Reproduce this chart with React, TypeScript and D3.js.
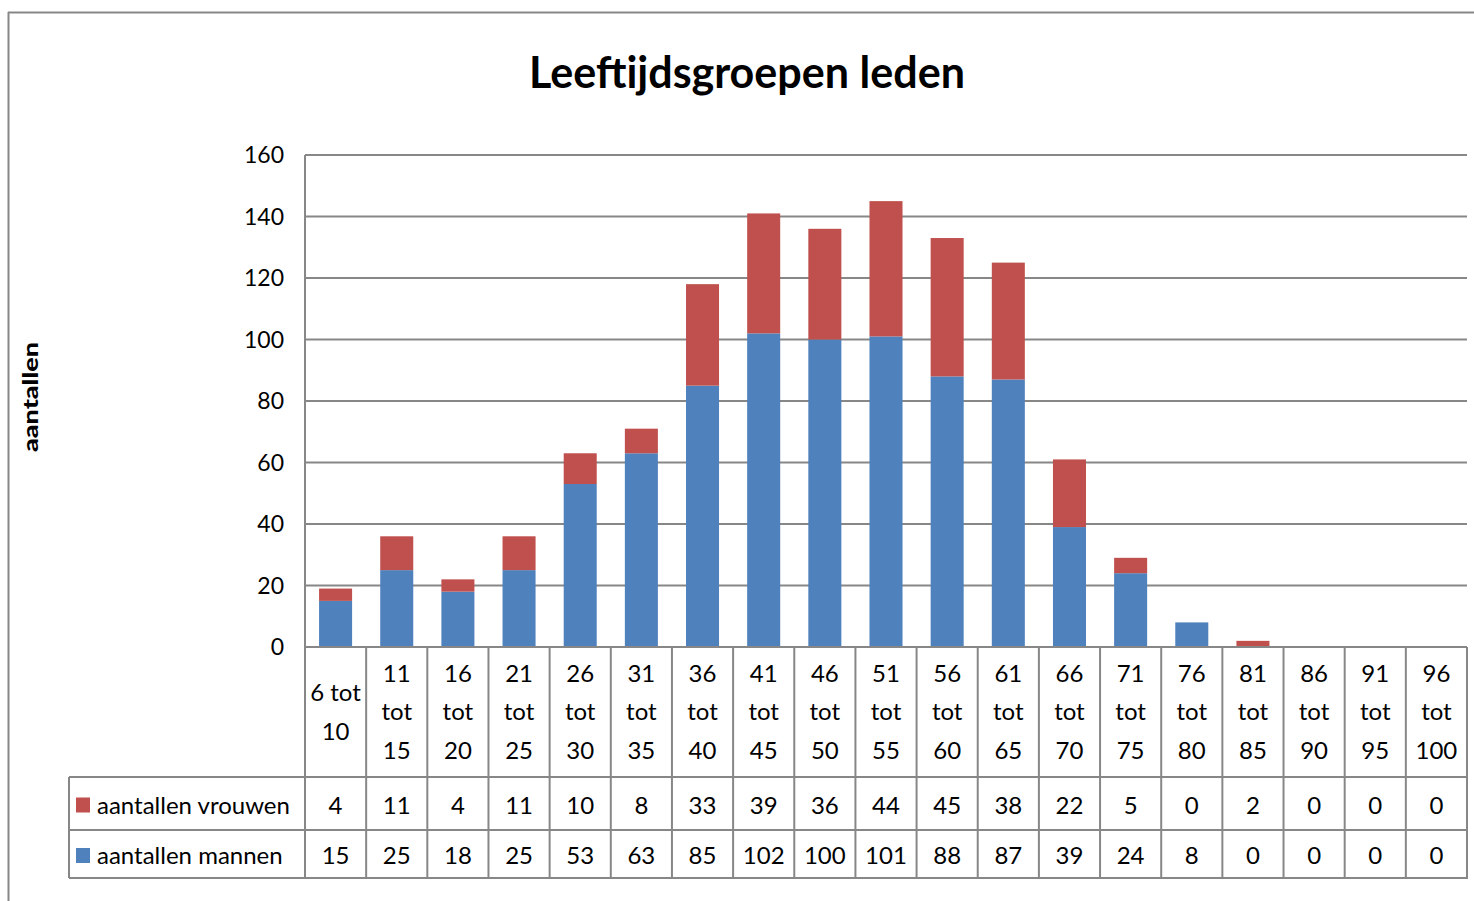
import React, { useMemo } from "react";
import * as d3 from "d3";

const categories = [
  "6 tot 10", "11 tot 15", "16 tot 20", "21 tot 25", "26 tot 30", "31 tot 35",
  "36 tot 40", "41 tot 45", "46 tot 50", "51 tot 55", "56 tot 60", "61 tot 65",
  "66 tot 70", "71 tot 75", "76 tot 80", "81 tot 85", "86 tot 90", "91 tot 95", "96 tot 100",
];
const mannen = [15, 25, 18, 25, 53, 63, 85, 102, 100, 101, 88, 87, 39, 24, 8, 0, 0, 0, 0];
const vrouwen = [4, 11, 4, 11, 10, 8, 33, 39, 36, 44, 45, 38, 22, 5, 0, 2, 0, 0, 0];
const yTicks = [0, 20, 40, 60, 80, 100, 120, 140, 160];
const seriesNames = ["aantallen vrouwen", "aantallen mannen"];
const title = "Leeftijdsgroepen leden";
const yLabel = "aantallen";

const FONT = "Lato, 'Open Sans', sans-serif";
const BLUE = "#4F81BD";
const RED = "#C0504D";
const GRID = "#878787";

function wrapLabel(label: string, maxW: number, font: string): string[] {
  const canvas = document.createElement("canvas");
  const ctx = canvas.getContext("2d");
  const words = label.split(" ");
  const lines: string[] = [];
  let cur = "";
  for (const w of words) {
    const test = cur ? cur + " " + w : w;
    const width = ctx ? (ctx.font = font, ctx.measureText(test).width) : test.length * 12;
    if (cur && width > maxW) {
      lines.push(cur);
      cur = w;
    } else {
      cur = test;
    }
  }
  if (cur) lines.push(cur);
  return lines;
}

export default function App() {
  const W = 1474, H = 901;
  const left = 305, right = 1467, top = 155, zeroY = 647;
  const catBottom = 777, row1Bottom = 830, row2Bottom = 878;
  const legendLeft = 69;

  const x = d3.scaleBand<string>().domain(categories).range([left, right]).paddingInner(0.46).paddingOuter(0.23);
  const xCell = d3.scaleBand<string>().domain(categories).range([left, right]).padding(0);
  const y = d3.scaleLinear().domain([0, 160]).range([zeroY, top]);

  const stackData = categories.map((c, i) => ({ cat: c, mannen: mannen[i], vrouwen: vrouwen[i] }));
  const stacked = d3.stack<any>().keys(["mannen", "vrouwen"])(stackData);
  const colors: Record<string, string> = { mannen: BLUE, vrouwen: RED };

  const wrapped = useMemo(
    () => categories.map((c) => wrapLabel(c, 56, `24px ${FONT}`)),
    []
  );
  const lineH = 38.5;
  const catCenter = (zeroY + catBottom) / 2;

  const rows = [
    { name: seriesNames[0], values: vrouwen, color: RED, top: catBottom, bottom: row1Bottom },
    { name: seriesNames[1], values: mannen, color: BLUE, top: row1Bottom, bottom: row2Bottom },
  ];

  return (
    <svg width={W} height={H} style={{ position: "fixed", left: 0, top: 0, background: "#fff" }} fontFamily={FONT}>
      <rect x={0} y={0} width={W} height={H} fill="#fff" />
      {/* outer frame */}
      <line x1={8.5} y1={12} x2={8.5} y2={H} stroke={GRID} strokeWidth={2} />
      <line x1={8} y1={12.5} x2={W} y2={12.5} stroke={GRID} strokeWidth={2} />

      {/* title */}
      <text x={747} y={88} textAnchor="middle" fontSize={44} fontWeight="bold" fill="#000"
        textLength={436} lengthAdjust="spacingAndGlyphs">{title}</text>

      {/* y label */}
      <text transform="translate(38,397) rotate(-90)" textAnchor="middle" fontSize={20} fontWeight="900" fill="#000"
        textLength={110} lengthAdjust="spacingAndGlyphs">{yLabel}</text>

      {/* gridlines */}
      {yTicks.filter((t) => t > 0).map((t) => (
        <line key={t} x1={left} x2={right} y1={y(t)} y2={y(t)} stroke={GRID} strokeWidth={2} />
      ))}
      {yTicks.map((t) => (
        <text key={"l" + t} x={284} y={y(t)} dy="0.35em" textAnchor="end" fontSize={23} fill="#000">{t}</text>
      ))}

      {/* bars */}
      {stacked.map((s) => (
        <g key={s.key} fill={colors[s.key]}>
          {s.map((d, i) => (
            d[1] - d[0] > 0 ? (
              <rect key={i} x={x(categories[i])} width={x.bandwidth()} y={y(d[1])} height={y(d[0]) - y(d[1])} />
            ) : null
          ))}
        </g>
      ))}

      {/* table grid */}
      <line x1={left} x2={left} y1={top} y2={row2Bottom} stroke={GRID} strokeWidth={2} />
      <line x1={left} x2={right} y1={zeroY} y2={zeroY} stroke={GRID} strokeWidth={2} />
      {[catBottom, row1Bottom, row2Bottom].map((yy) => (
        <line key={yy} x1={legendLeft} x2={right + 1} y1={yy} y2={yy} stroke={GRID} strokeWidth={2} />
      ))}
      <line x1={legendLeft} x2={legendLeft} y1={catBottom} y2={row2Bottom} stroke={GRID} strokeWidth={2} />
      {categories.map((c) => (
        <line key={"v" + c} x1={(xCell(c) as number) + xCell.bandwidth()} x2={(xCell(c) as number) + xCell.bandwidth()}
          y1={zeroY} y2={row2Bottom} stroke={GRID} strokeWidth={2} />
      ))}

      {/* category labels */}
      {categories.map((c, i) => {
        const lines = wrapped[i];
        const cx = (xCell(c) as number) + xCell.bandwidth() / 2;
        const startY = catCenter - ((lines.length - 1) * lineH) / 2;
        return (
          <text key={"c" + c} textAnchor="middle" fontSize={24} fill="#000">
            {lines.map((ln, j) => (
              <tspan key={j} x={cx} y={startY + j * lineH} dy="0.35em">{ln}</tspan>
            ))}
          </text>
        );
      })}

      {/* table rows */}
      {rows.map((r) => {
        const cy = (r.top + r.bottom) / 2 + 2;
        return (
          <g key={r.name}>
            <rect x={76} y={cy - 8} width={14} height={15} fill={r.color} />
            <text x={97} y={cy} dy="0.35em" fontSize={24} fill="#000">{r.name}</text>
            {r.values.map((v, i) => (
              <text key={i} x={(xCell(categories[i]) as number) + xCell.bandwidth() / 2} y={cy} dy="0.35em"
                textAnchor="middle" fontSize={24} fill="#000">{v}</text>
            ))}
          </g>
        );
      })}
    </svg>
  );
}
